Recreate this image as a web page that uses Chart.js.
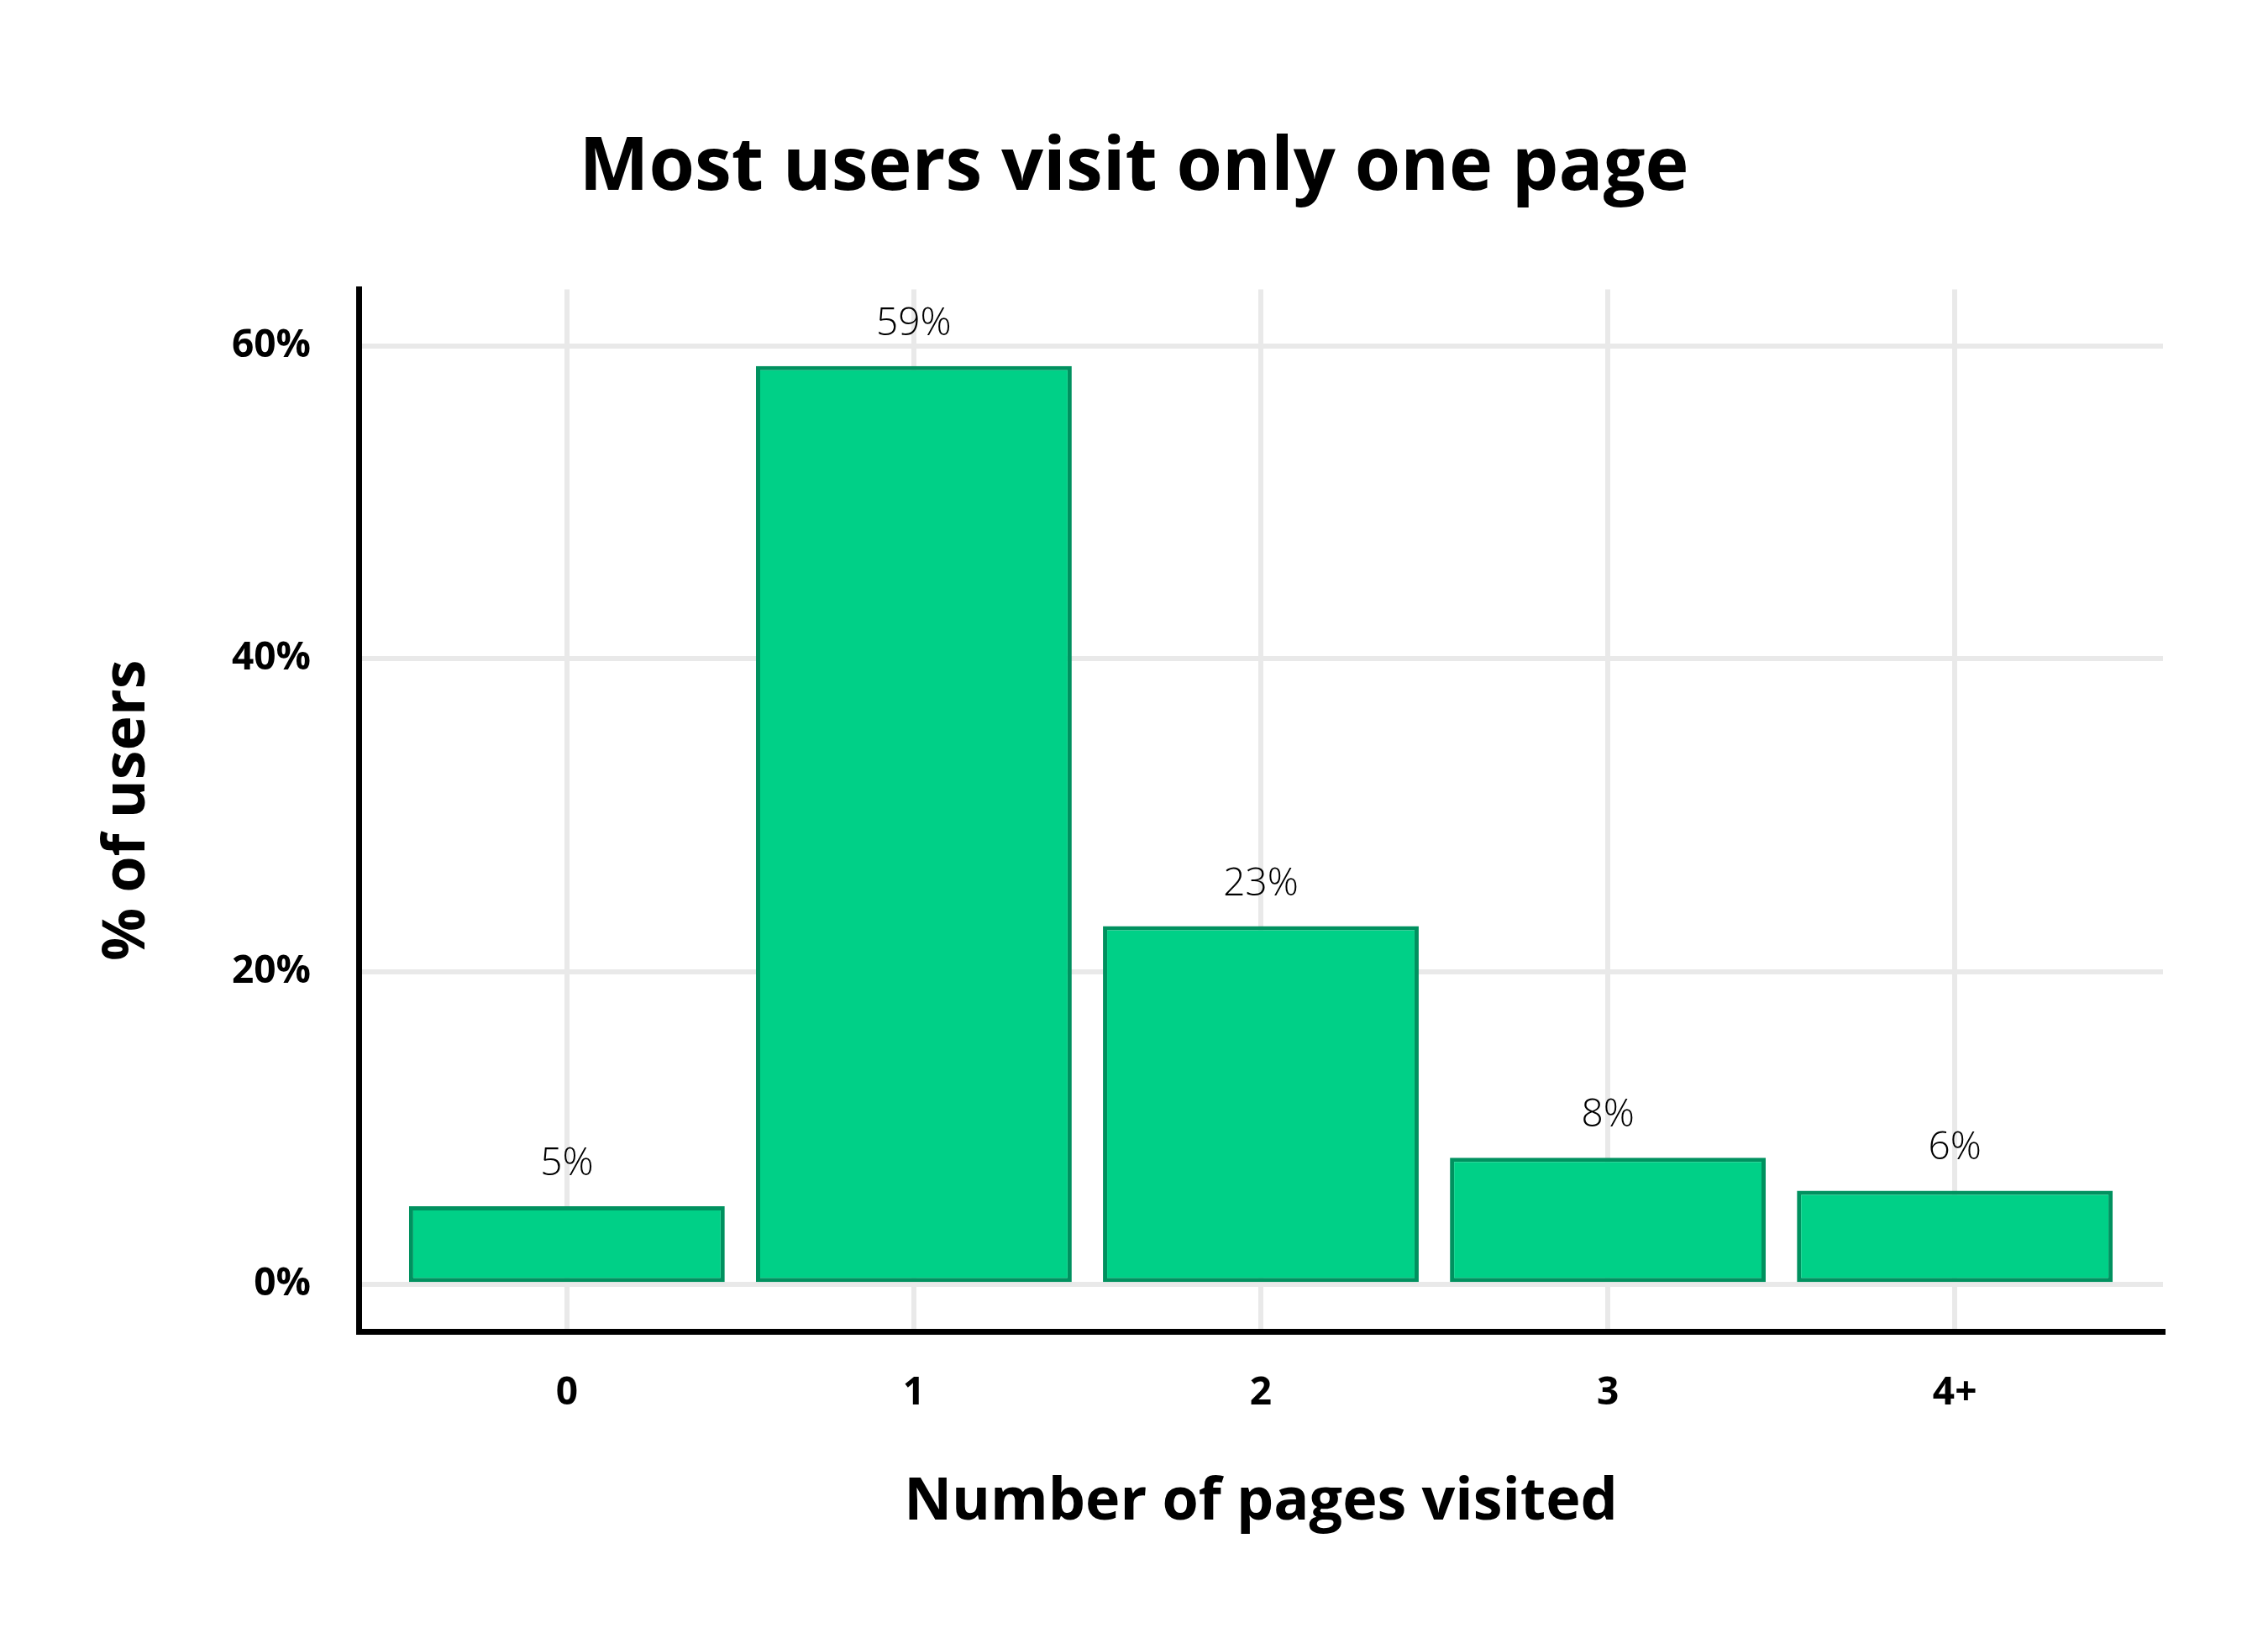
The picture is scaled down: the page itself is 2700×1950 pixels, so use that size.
<!DOCTYPE html>
<html>
<head>
<meta charset="utf-8">
<script src="https://cdn.jsdelivr.net/npm/chart.js@4.4.0/dist/chart.umd.min.js"></script>
<style>
  html, body { margin: 0; padding: 0; background: #fff; }
</style>
</head>
<body>
<canvas id="chart" width="2700" height="1950"></canvas>
<script>
const categories = ['0', '1', '2', '3', '4+']
const shareOfUsers = [5.0, 58.7, 22.9, 8.1, 6.0]
const xTicks = [0, 1, 2, 3, 4]
const yTicks = [0, 20, 40, 60]

const FONT = '"Open Sans", "DejaVu Sans", sans-serif'

// % labels above each bar
const barLabels = {
  id: 'barLabels',
  afterDatasetsDraw(chart){
    const { ctx } = chart
    const meta = chart.getDatasetMeta(0)
    ctx.save()
    ctx.font = `300 46px ${FONT}`
    ctx.fillStyle = '#000'
    ctx.textAlign = 'center'
    ctx.textBaseline = 'middle'
    meta.data.forEach((bar, i) => {
      ctx.fillText(Math.round(shareOfUsers[i]) + '%', bar.x, bar.y - 50)
    })
    ctx.restore()
  }
}

new Chart(document.getElementById('chart'), {
  type: 'bar',
  data: {
    datasets: [{
      data: shareOfUsers.map((v, i) => ({ x: xTicks[i], y: v })),
      backgroundColor: '#00d087',
      borderColor: '#00915f',
      borderWidth: 5,
      borderSkipped: false,
      categoryPercentage: 1,
      barPercentage: 0.91
    }]
  },
  options: {
    responsive: false,
    animation: false,
    devicePixelRatio: 1,
    layout: { padding: 0 },
    plugins: {
      legend: { display: false },
      tooltip: { enabled: false },
      title: {
        display: true,
        text: 'Most users visit only one page',
        color: '#000',
        font: { family: FONT, size: 88, weight: 700 },
        padding: { top: 148, bottom: 91 }
      }
    },
    scales: {
      x: {
        type: 'linear',
        min: -0.6,
        max: 4.6,
        offset: false,
        afterBuildTicks: s => { s.ticks = xTicks.map(v => ({ value: v })) },
        afterFit: s => { s.height = 365 },
        ticks: {
          callback: v => categories[v],
          color: '#000',
          font: { family: FONT, size: 46, weight: 700 },
          padding: 46
        },
        grid: { color: '#e9e9e9', lineWidth: 6, drawTicks: false, offset: false },
        border: { color: '#000', width: 7 },
        title: {
          display: true,
          text: 'Number of pages visited',
          color: '#000',
          font: { family: FONT, size: 70, weight: 700 },
          padding: { top: 0, bottom: 119 }
        }
      },
      y: {
        min: -3,
        max: 63.6,
        afterBuildTicks: s => { s.ticks = yTicks.map(v => ({ value: v })) },
        afterFit: s => { s.width = 427 },
        ticks: {
          callback: v => v + '%',
          color: '#000',
          font: { family: FONT, size: 46, weight: 700 },
          padding: 57
        },
        grid: { color: '#e9e9e9', lineWidth: 6, drawTicks: false },
        border: { color: '#000', width: 7 },
        title: {
          display: true,
          text: '% of users',
          color: '#000',
          font: { family: FONT, size: 70, weight: 700 },
          padding: { top: 110, bottom: 0 }
        }
      },
      // empty right axis, only keeps the right margin so the title stays centred on the page
      yRight: {
        position: 'right',
        display: true,
        afterFit: s => { s.width = 125 },
        ticks: { display: false },
        grid: { display: false, drawTicks: false },
        border: { display: false }
      }
    }
  },
  plugins: [barLabels]
})
</script>
</body>
</html>
